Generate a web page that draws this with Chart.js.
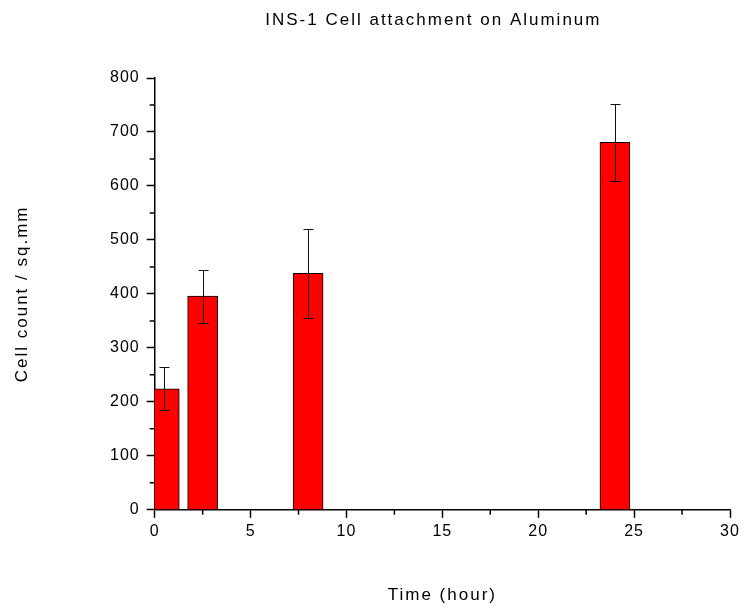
<!DOCTYPE html>
<html>
<head>
<meta charset="utf-8">
<script src="https://cdn.jsdelivr.net/npm/chart.js@4.4.0/dist/chart.umd.min.js"></script>
<style>
body{margin:0;background:#fff}
#wrap{width:744px;height:612px}
</style>
</head>
<body>
<div id="wrap"><canvas id="myChart"></canvas></div>
<script>
// cell attachment data (time in hours)
const timeHours = [0.5, 2.5, 8, 24]
const cellCount = [224, 396, 438, 681]
const cellErr = [40, 49, 82, 71]

// axis ticks
const xTicks = [0, 5, 10, 15, 20, 25, 30]
const yTicks = [0, 100, 200, 300, 400, 500, 600, 700, 800]

const chartTitle = 'INS-1 Cell attachment on Aluminum'
const xTitle = 'Time (hour)'
const yTitle = 'Cell count / sq.mm'
const fontName = "'Liberation Sans', Arial, sans-serif"

const ctx = document.getElementById('myChart')

const points = timeHours.map((t, i) => ({ x: t, y: cellCount[i] }))

// small ticks halfway between the labelled ones
function midpoints(arr) {
  const out = []
  for (let i = 0; i < arr.length - 1; i++) out.push((arr[i] + arr[i + 1]) / 2)
  return out
}

// wider letter spacing for all the text
const spacing = {
  id: 'spacing',
  beforeLayout(chart) { chart.ctx.letterSpacing = '1px' },
  beforeDraw(chart) { chart.ctx.letterSpacing = '1px' }
}

const minorTicks = {
  id: 'minorTicks',
  afterDraw(chart) {
    const c = chart.ctx
    const xs = chart.scales.x
    const ys = chart.scales.y
    const area = chart.chartArea
    c.save()
    c.strokeStyle = '#000'
    c.lineWidth = 1.5
    c.beginPath()
    midpoints(xTicks).forEach(v => {
      const px = xs.getPixelForValue(v)
      c.moveTo(px, area.bottom)
      c.lineTo(px, area.bottom + 5)
    })
    midpoints(yTicks).forEach(v => {
      const py = ys.getPixelForValue(v)
      c.moveTo(area.left, py)
      c.lineTo(area.left - 5, py)
    })
    c.stroke()
    c.restore()
  }
}

const errorBars = {
  id: 'errorBars',
  afterDatasetsDraw(chart) {
    const c = chart.ctx
    const xs = chart.scales.x
    const ys = chart.scales.y
    c.save()
    c.strokeStyle = '#111'
    c.lineWidth = 1
    c.beginPath()
    timeHours.forEach((t, i) => {
      const px = Math.round(xs.getPixelForValue(t)) + 0.5
      const top = Math.round(ys.getPixelForValue(cellCount[i] + cellErr[i])) + 0.5
      const bot = Math.round(ys.getPixelForValue(cellCount[i] - cellErr[i])) + 0.5
      c.moveTo(px, top); c.lineTo(px, bot)
      c.moveTo(px - 5, top); c.lineTo(px + 5, top)
      c.moveTo(px - 5, bot); c.lineTo(px + 5, bot)
    })
    c.stroke()
    c.restore()
  }
}

// chart title and axis titles
const titles = {
  id: 'titles',
  afterDraw(chart) {
    const c = chart.ctx
    const area = chart.chartArea
    const midX = (area.left + area.right) / 2
    const midY = (area.top + area.bottom) / 2
    c.save()
    c.fillStyle = '#000'
    c.letterSpacing = '2px'
    c.font = '17px ' + fontName
    c.textAlign = 'center'
    c.textBaseline = 'middle'
    c.fillText(chartTitle, midX - 9, 20)
    c.fillText(xTitle, midX, 595)
    c.translate(22, midY)
    c.rotate(-Math.PI / 2)
    c.fillText(yTitle, 0, 0)
    c.restore()
  }
}

new Chart(ctx, {
  type: 'bar',
  data: {
    datasets: [{
      label: 'Cell count',
      data: points,
      backgroundColor: '#ff0000',
      borderColor: '#000',
      borderWidth: 1,
      barThickness: 30,
      clip: 0
    }]
  },
  options: {
    responsive: true,
    maintainAspectRatio: false,
    animation: false,
    layout: { padding: { top: 78, right: 14, left: 103, bottom: 67 } },
    plugins: {
      legend: { display: false },
      tooltip: { enabled: false }
    },
    scales: {
      x: {
        type: 'linear',
        min: 0,
        max: 30,
        offset: false,
        afterBuildTicks: (axis) => { axis.ticks = xTicks.map(v => ({ value: v })) },
        ticks: { color: '#000', font: { family: fontName, size: 16 }, padding: 4, maxRotation: 0 },
        grid: { offset: false, drawOnChartArea: false, color: '#000', tickLength: 8, tickWidth: 1.5 },
        border: { display: true, color: '#000', width: 1.5 }
      },
      y: {
        min: 0,
        max: 800,
        afterBuildTicks: (axis) => { axis.ticks = yTicks.map(v => ({ value: v })) },
        ticks: { color: '#000', font: { family: fontName, size: 16 }, padding: 7 },
        grid: { drawOnChartArea: false, color: '#000', tickLength: 8, tickWidth: 1.5 },
        border: { display: true, color: '#000', width: 1.5 }
      }
    }
  },
  plugins: [spacing, minorTicks, errorBars, titles]
})
</script>
</body>
</html>
